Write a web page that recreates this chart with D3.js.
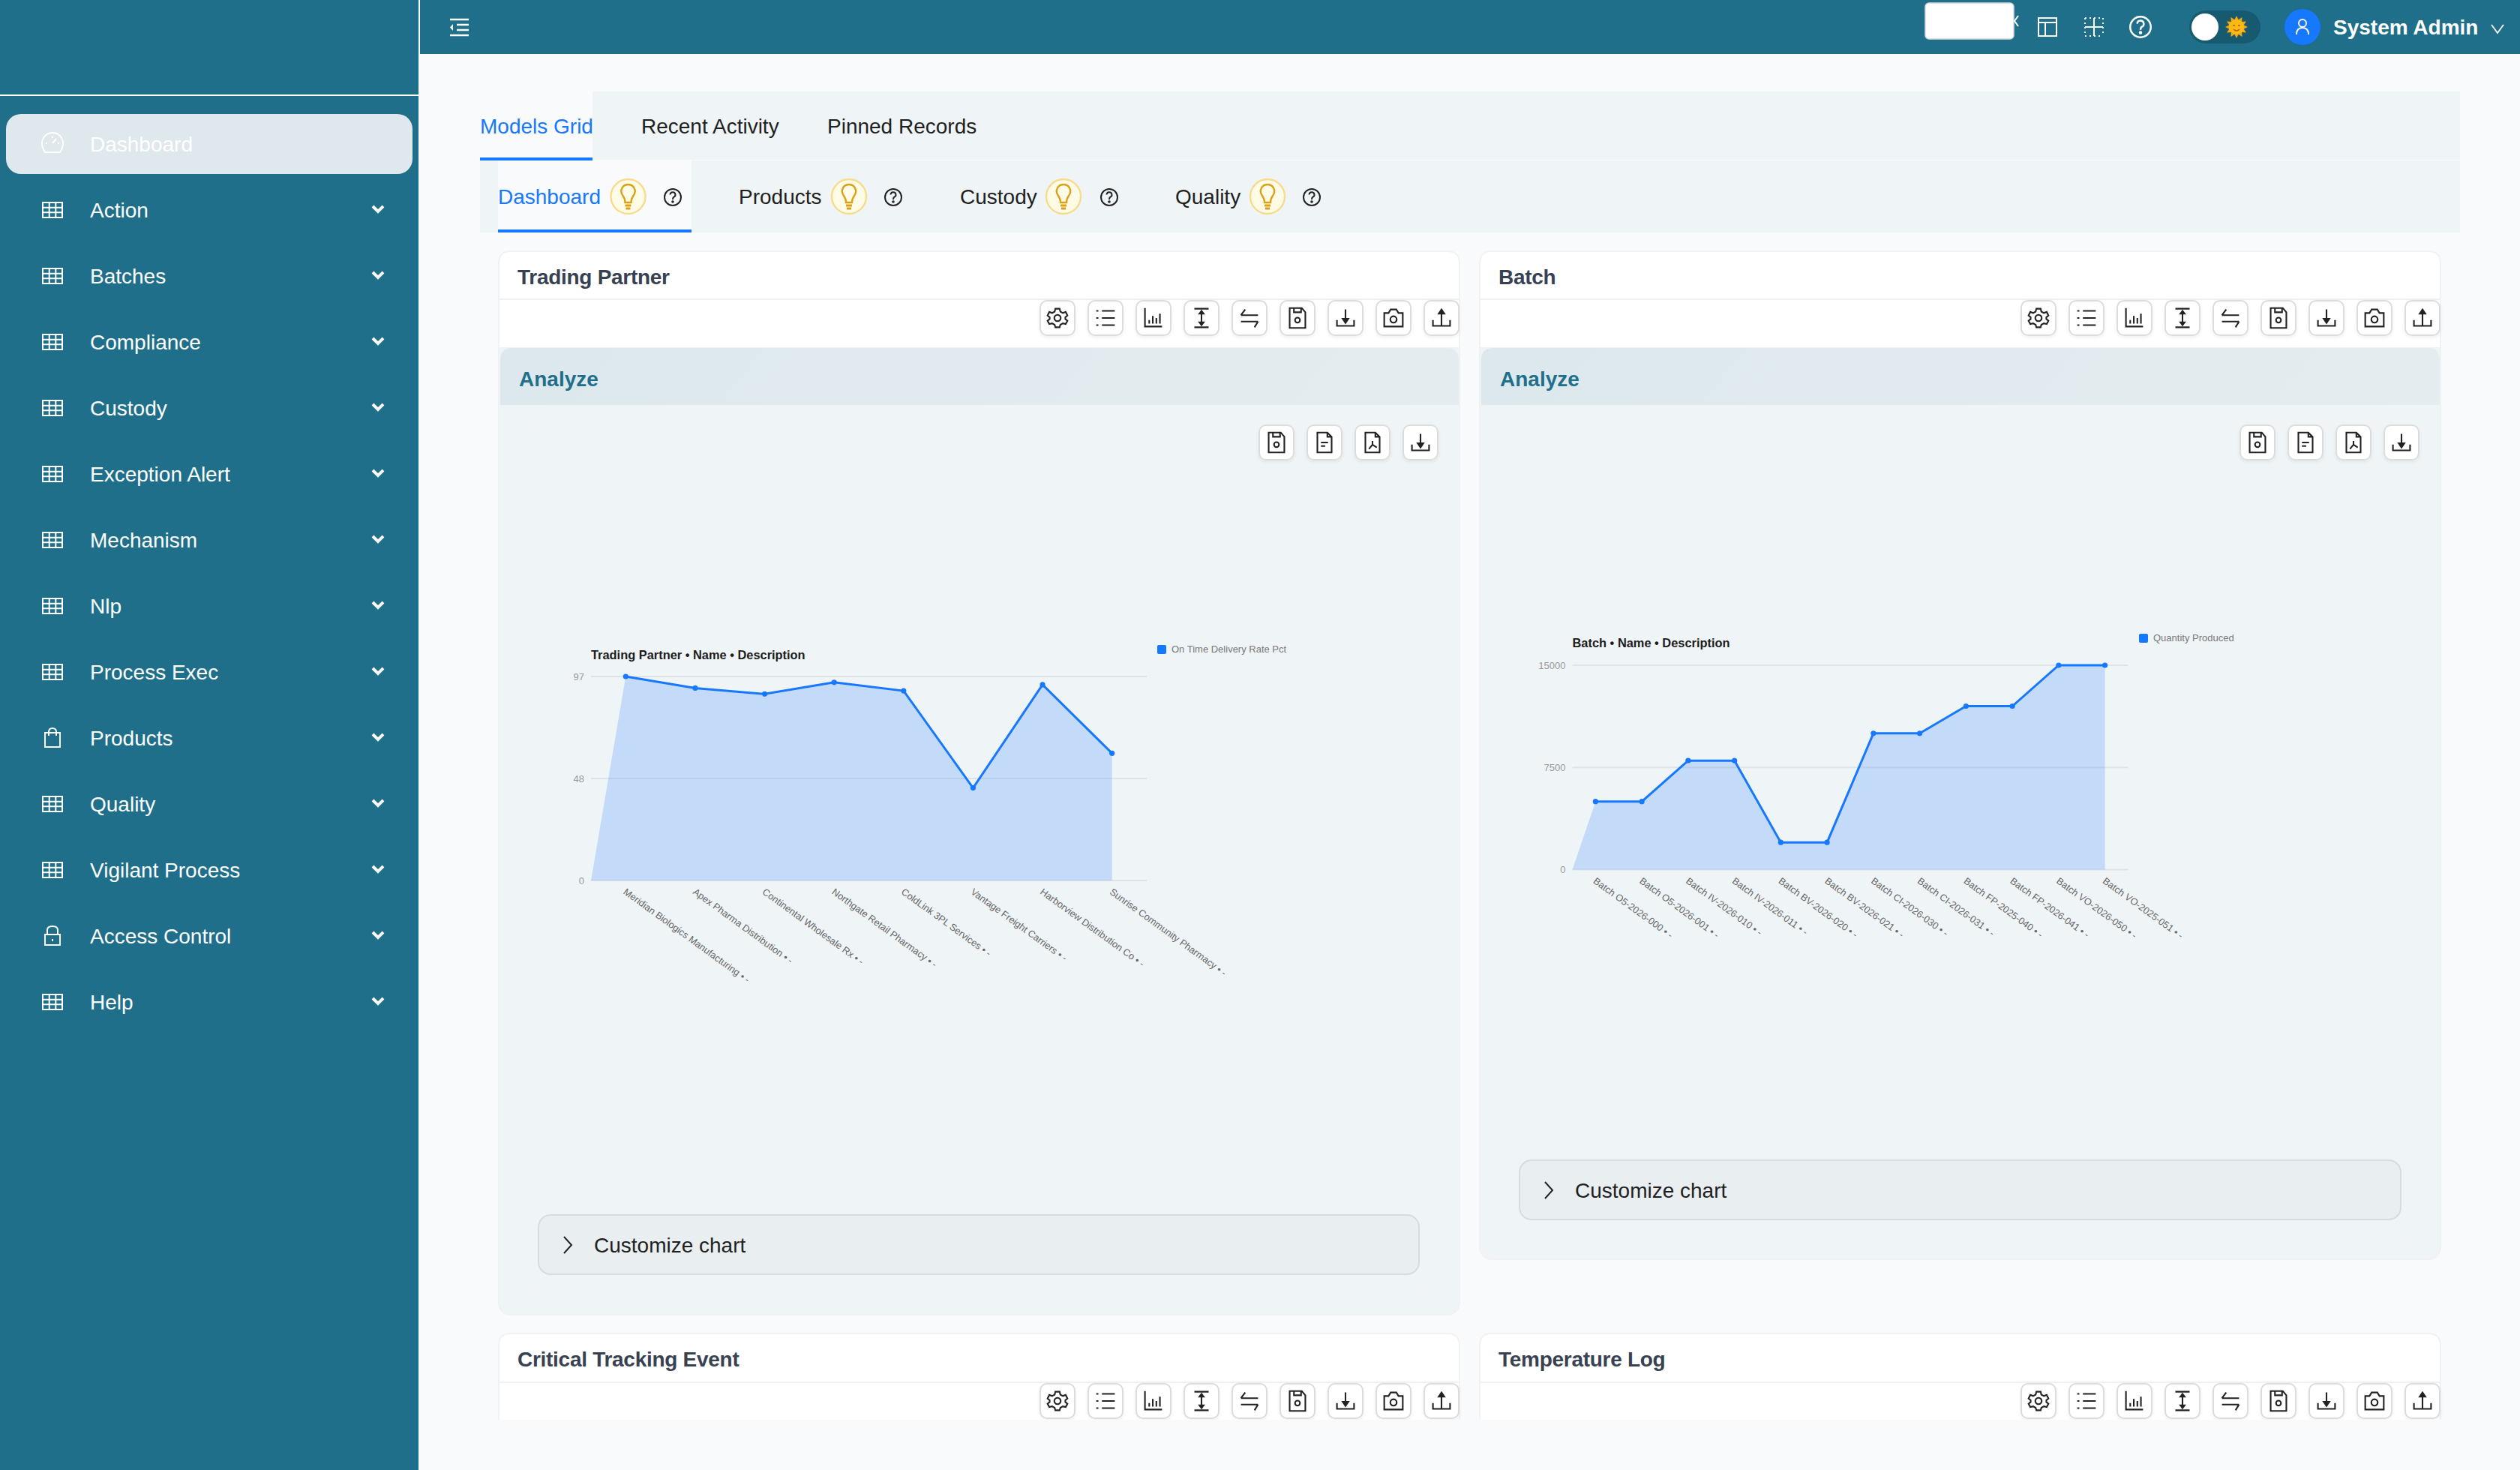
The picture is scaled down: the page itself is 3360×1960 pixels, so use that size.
<!DOCTYPE html>
<html>
<head>
<meta charset="utf-8">
<title>Dashboard</title>
<script src="https://cdn.jsdelivr.net/npm/d3@7/dist/d3.min.js"></script>
<style>
html,body{margin:0;padding:0;background:#f9fafb;overflow:hidden}
svg{display:block;font-family:"Liberation Sans",Arial,sans-serif}
</style>
</head>
<body>
<svg id="page" width="3360" height="1960" viewBox="0 0 3360 1960"></svg>
<script>
const partnerNames = ["Meridian Biologics Manufacturing","Apex Pharma Distribution","Continental Wholesale Rx","Northgate Retail Pharmacy","ColdLink 3PL Services","Vantage Freight Carriers","Harborview Distribution Co","Sunrise Community Pharmacy"];
const partnerValues = [97,91.5,88.7,94.2,90.2,44,93.1,60.5];
const partnerTicks = [0,48.5,97];
const partnerTickLabels = ["0","48","97"];
const batchNames = ["Batch O5-2026-000","Batch O5-2026-001","Batch IV-2026-010","Batch IV-2026-011","Batch BV-2026-020","Batch BV-2026-021","Batch CI-2026-030","Batch CI-2026-031","Batch FP-2025-040","Batch FP-2026-041","Batch VO-2026-050","Batch VO-2025-051"];
const batchValues = [5000,5000,8000,8000,2000,2000,10000,10000,12000,12000,15000,15000];
const batchTicks = [0,7500,15000];
const batchTickLabels = ["0","7500","15000"];
const sideItems = ["Action","Batches","Compliance","Custody","Exception Alert","Mechanism","Nlp","Process Exec","Products","Quality","Vigilant Process","Access Control","Help"];
const sideIcons = ["grid","grid","grid","grid","grid","grid","grid","grid","bag","grid","grid","lock","grid"];
const topTabs = ["Models Grid","Recent Activity","Pinned Records"];
const subTabs = ["Dashboard","Products","Custody","Quality"];
const toolIcons = ["gear","list","bars","height","swap","save","download","camera","upload"];
const panelIcons = ["save","file","pdf","download"];

const TEAL="#1f6f8b", PANEL="#eff4f7", BG="#f9fafb", BLUE="#1677ff", INK="#1f1f1f", HEAD="#374151";
const svg=d3.select("#page");
const defs=svg.append("defs");
const grad=defs.append("linearGradient").attr("id","hdr").attr("x1","0").attr("x2","1").attr("y1","0").attr("y2","0.05");
grad.append("stop").attr("offset","0").attr("stop-color","#dce8ed");
grad.append("stop").attr("offset","1").attr("stop-color","#e5ecef");
const btnShadow=defs.append("filter").attr("id","btnS").attr("x","-20%").attr("y","-20%").attr("width","140%").attr("height","150%");
btnShadow.append("feDropShadow").attr("dx",0).attr("dy",2).attr("stdDeviation",2).attr("flood-color","#000").attr("flood-opacity",0.06);
defs.append("clipPath").attr("id","mainClip").append("rect").attr("x",560).attr("y",72).attr("width",2800).attr("height",1821);

function txt(g,s,x,y,size,fill,weight,anchor){
  return g.append("text").attr("x",x).attr("y",y).attr("font-size",size).attr("fill",fill)
    .attr("font-weight",weight||400).attr("text-anchor",anchor||"start").text(s);
}
function roundedTop(x0,y0,x1,y1,r){return `M${x0},${y1}V${y0+r}Q${x0},${y0} ${x0+r},${y0}H${x1-r}Q${x1},${y0} ${x1},${y0+r}V${y1}Z`;}

/* icon set: drawn centred on (0,0), nominal ±12 units */
function icon(g,name,cx,cy,color,sw,sc){
  const n=g.append("g").attr("transform",`translate(${cx},${cy}) scale(${sc||1})`)
    .attr("fill","none").attr("stroke",color).attr("stroke-width",sw||2).attr("stroke-linecap","butt");
  const p=d=>n.append("path").attr("d",d);
  const c=(x,y,r)=>n.append("circle").attr("cx",x).attr("cy",y).attr("r",r);
  switch(name){
    case "grid":
      n.append("rect").attr("x",-13).attr("y",-10).attr("width",26).attr("height",20);
      p("M-13,-3.3H13M-13,3.3H13M-4.3,-10V10M4.3,-10V10");break;
    case "bag":
      p("M-10,-7H10V12H-10ZM-5,-3V-8Q-5,-13 0,-13Q5,-13 5,-8V-3");break;
    case "lock":
      p("M-10,-2H10V12H-10ZM-7,-2V-8Q-7,-13 0,-13Q7,-13 7,-8V-2M0,4V7");break;
    case "gauge":
      p("M-10,11Q-14,5 -14,-1A14,14 0 0 1 14,-1Q14,5 10,11Z");p("M0,-1L5,-7M0,-10V-8M-9,-1H-7M9,-1H7");break;
    case "gear":
      p("M-3,-13H3L4,-9L7.5,-7L11.5,-8.5L14,-3.5L11,-1V1.5L14,4L11.5,8.5L7.5,7.5L4,9.5L3,13H-3L-4,9.5L-7.5,7.5L-11.5,8.5L-14,4L-11,1.5V-1L-14,-3.5L-11.5,-8.5L-7.5,-7L-4,-9Z");c(0,0,4.5);break;
    case "list":
      p("M-5,-10H13M-5,0H13M-5,10H13M-13,-10H-10M-13,0H-10M-13,10H-10");break;
    case "bars":
      p("M-12,-14V12H12");p("M-6,8V3M-1,8V-3M4,8V0M9,8V-6");break;
    case "height":
      p("M-10,-13H10M-10,13H10M0,-8V8");n.append("path").attr("d","M-3,-6L0,-10L3,-6ZM-3,6L0,10L3,6Z").attr("fill",color);break;
    case "swap":
      p("M-12,-4H12M-12,5H12M-12,-4L-6,-12M12,5L7,13");break;
    case "save":
      p("M-11,-14H6L11,-8V14H-11ZM-5,-14V-8H5V-14");c(0,3,3.5);break;
    case "download":
      p("M0,-12V5M-12,3V11H12V3");n.append("path").attr("d","M-4,1L0,7L4,1Z").attr("fill",color);break;
    case "upload":
      p("M0,-8V10M-12,3V11H12V3");n.append("path").attr("d","M-4,-6L0,-12L4,-6Z").attr("fill",color);break;
    case "camera":
      p("M-13,-7H-7L-4,-12H4L7,-7H13V12H-13Z");c(0,2,4.5);break;
    case "file":
      p("M-10,-14H4L10,-8V14H-10ZM4,-14V-8H10M-5,0H5M-5,5H1");break;
    case "pdf":
      p("M-10,-14H4L10,-8V14H-10ZM4,-14V-8H10M0,-2V3L-5,9M0,3L6,7");break;
    case "help":
      c(0,0,11);p("M-3.5,-3.5A3.5,3.5 0 1 1 1,0Q0,1 0,3");n.append("circle").attr("cx",0).attr("cy",6).attr("r",0.8).attr("fill",color);break;
    case "layout":
      p("M-12,-12H12V12H-12ZM-12,-6H12M-3,-6V12");break;
    case "dots":
      p("M-12,-12H12M-12,12H12M-12,-12V12M12,-12V12").attr("stroke-dasharray","2,4");
      p("M-12,0H12M0,-12V12").attr("stroke-width",2);break;
    case "user":
      c(0,-5,5);p("M-8,10Q-8,1 0,1Q8,1 8,10");break;
  }
  return n;
}
function button(g,name,x,y,w,h){
  g.append("rect").attr("x",x).attr("y",y).attr("width",w).attr("height",h).attr("rx",9)
    .attr("fill","#fff").attr("stroke","#dcdcdc").attr("stroke-width",2).attr("filter","url(#btnS)");
  icon(g,name,x+w/2,y+h/2,"#222",2.2,0.95);
}
function bulb(g,cx,cy){
  g.append("circle").attr("cx",cx).attr("cy",cy).attr("r",23).attr("fill","#fffbe6").attr("stroke","#f6dc8c").attr("stroke-width",2.4);
  const b=g.append("g").attr("transform",`translate(${cx},${cy})`).attr("fill","none").attr("stroke","#d9a216").attr("stroke-width",2.4);
  b.append("path").attr("d","M-4,8Q-4,3 -7,-1Q-10,-5 -9,-9Q-7,-16 0,-16Q7,-16 9,-9Q10,-5 7,-1Q4,3 4,8Z");
  b.append("path").attr("d","M-4,12H4M-3,16H3").attr("stroke-width",3);
}

/* ---------- shell ---------- */
svg.append("rect").attr("width",3360).attr("height",1960).attr("fill",BG);
svg.append("rect").attr("width",558).attr("height",1960).attr("fill",TEAL);
svg.append("rect").attr("x",560).attr("width",2800).attr("height",72).attr("fill",TEAL);
svg.append("rect").attr("y",126).attr("width",558).attr("height",2).attr("fill","#fff");

/* sidebar */
const side=svg.append("g");
side.append("rect").attr("x",8).attr("y",152).attr("width",542).attr("height",80).attr("rx",20).attr("fill","#dee8ed");
icon(side,"gauge",70,192,"#fff",2);
txt(side,"Dashboard",120,202,28,"#fff");
sideItems.forEach((s,i)=>{
  const cy=280+i*88;
  icon(side,sideIcons[i],70,cy,"#fff",2);
  txt(side,s,120,cy+10,28,"#fff");
  side.append("path").attr("d",`M${497},${cy-5}L${504},${cy+2}L${511},${cy-5}`).attr("fill","none").attr("stroke","#fff").attr("stroke-width",4);
});

/* top bar */
const topBar=svg.append("g");
topBar.append("path").attr("d","M600,26H625M600,47H625M609,33H625M609,40H625").attr("stroke","#fff").attr("stroke-width",2.4).attr("fill","none");
topBar.append("path").attr("d","M600,36.5L604,32V41Z").attr("fill","#fff");
topBar.append("rect").attr("x",2567).attr("y",4).attr("width",118).attr("height",48).attr("rx",5).attr("fill","#fff").attr("stroke","#d9d9d9").attr("stroke-width",1.5);
topBar.append("path").attr("d","M2691,21L2686,28L2691,35").attr("fill","none").attr("stroke","#fff").attr("stroke-width",2);
icon(topBar,"layout",2730,36,"#fff",2);
icon(topBar,"dots",2792,36,"#fff",2);
icon(topBar,"help",2854,36,"#fff",2,1.25);
topBar.append("rect").attr("x",2919).attr("y",14).attr("width",95).attr("height",44).attr("rx",22).attr("fill","#175a70");
topBar.append("circle").attr("cx",2940).attr("cy",36).attr("r",18).attr("fill","#fff");
const sun=topBar.append("g").attr("transform","translate(2982,36)");
d3.range(12).forEach(i=>sun.append("path").attr("d","M-3,-9L0,-15L3,-9Z").attr("fill","#f5a90f").attr("transform",`rotate(${i*30})`));
sun.append("circle").attr("r",10).attr("fill","#fcb813");
sun.append("path").attr("d","M-5,-2H-2M2,-2H5M-4,3Q0,7 4,3").attr("fill","none").attr("stroke","#a9650a").attr("stroke-width",1.4);
topBar.append("circle").attr("cx",3070).attr("cy",36).attr("r",24).attr("fill",BLUE);
icon(topBar,"user",3070,36,"#fff",2);
txt(topBar,"System Admin",3111,46,28,"#fff",700);
topBar.append("path").attr("d","M3322,33L3330,44L3338,33").attr("fill","none").attr("stroke","#fff").attr("stroke-width",1.8);

/* tabs */
const tabs=svg.append("g");
tabs.append("rect").attr("x",790).attr("y",122).attr("width",2490).attr("height",91).attr("fill",PANEL);
tabs.append("rect").attr("x",640).attr("y",214).attr("width",2640).attr("height",96).attr("fill",PANEL);
tabs.append("rect").attr("x",640).attr("y",210).attr("width",150).attr("height",4).attr("fill",BLUE);
tabs.append("rect").attr("x",664).attr("y",214).attr("width",258).attr("height",92).attr("fill",BG);
tabs.append("rect").attr("x",664).attr("y",306).attr("width",258).attr("height",4).attr("fill",BLUE);
const topTabX=[640,855,1103];
topTabs.forEach((s,i)=>txt(tabs,s,topTabX[i],178,28,i===0?BLUE:INK));
const subX=[664,985,1280,1567], bulbX=[837.5,1132,1418,1690], helpX=[897,1191,1479,1749];
subTabs.forEach((s,i)=>{
  txt(tabs,s,subX[i],272,28,i===0?BLUE:INK);
  bulb(tabs,bulbX[i],262);
  icon(tabs,"help",helpX[i],263,"#222",2);
});

/* cards */
const mainG=svg.append("g").attr("clip-path","url(#mainClip)");
function card(title,x0,x1,y0,yBottom,cust){
  const g=mainG.append("g");
  g.append("rect").attr("x",x0).attr("y",y0).attr("width",x1-x0).attr("height",yBottom-y0).attr("rx",16)
    .attr("fill",PANEL).attr("stroke","#eff1f2").attr("stroke-width",2);
  g.append("path").attr("d",roundedTop(x0,y0,x1,464,16)).attr("fill","#fff").attr("stroke","#f1f2f3").attr("stroke-width",2);
  g.append("rect").attr("x",x0).attr("y",398).attr("width",x1-x0).attr("height",2).attr("fill","#f0f1f2");
  txt(g,title,x0+25,378.5,28,HEAD,700).attr("letter-spacing",-0.28);
  toolIcons.forEach((n,i)=>button(g,n,x1-559+i*64,401,46,46));
  g.append("path").attr("d",roundedTop(x0+2,464,x1-1,540,16)).attr("fill","url(#hdr)");
  txt(g,"Analyze",x0+27,515,28,TEAL,700);
  g.append("rect").attr("x",x0+29).attr("y",565).attr("width",x1-x0-58+1).attr("height",yBottom-28-565).attr("rx",16)
    .attr("fill","none").attr("stroke","#f2f3f3").attr("stroke-width",2);
  panelIcons.forEach((n,i)=>button(g,n,x1-267+i*64,567,46,46));
  g.append("rect").attr("x",x0+53).attr("y",cust).attr("width",x1-x0-(x0<1000?53+54:53+53)).attr("height",79).attr("rx",16)
    .attr("fill","#e9eef1").attr("stroke","#d9dcdd").attr("stroke-width",2);
  g.append("path").attr("d",`M${x0+87},${cust+29}L${x0+97},${cust+40}L${x0+87},${cust+51}`).attr("fill","none").attr("stroke","#222").attr("stroke-width",2);
  txt(g,"Customize chart",x0+127,cust+50,28,INK);
}
card("Trading Partner",665,1946,335,1753,1620);
card("Batch",1973,3254,335,1679,1547);
function stub(title,x0,x1){
  const g=mainG.append("g");
  g.append("path").attr("d",roundedTop(x0,1778,x1,1960,16)).attr("fill","#fff").attr("stroke","#f1f2f3").attr("stroke-width",2);
  g.append("rect").attr("x",x0).attr("y",1842).attr("width",x1-x0).attr("height",2).attr("fill","#f0f1f2");
  txt(g,title,x0+25,1822,28,HEAD,700).attr("letter-spacing",-0.28);
  toolIcons.forEach((n,i)=>button(g,n,x1-559+i*64,1845,46,46));
}
stub("Critical Tracking Event",665,1946);
stub("Temperature Log",1973,3254);

/* charts */
function areaChart(o){
  const g=svg.append("g");
  const x=d3.scaleBand().domain(o.names).range([o.left,o.right]);
  const y=d3.scaleLinear().domain([0,o.max]).range([o.bottom,o.top]);
  const yAxis=d3.axisLeft(y).tickValues(o.ticks).tickSize(0).tickPadding(9).tickFormat((d,i)=>o.tickLabels[i]);
  const ya=g.append("g").attr("transform",`translate(${o.left},0)`).call(yAxis);
  ya.select(".domain").remove();
  ya.selectAll("text").attr("font-size",13).attr("font-family","Liberation Sans").attr("fill","#999");
  g.selectAll("line.grid").data(o.ticks).join("line").attr("class","grid")
    .attr("x1",o.left).attr("x2",o.right).attr("y1",d=>y(d)).attr("y2",d=>y(d))
    .attr("stroke","#e0e3e5").attr("stroke-width",2);
  const pts=o.names.map((n,i)=>[x(n)+x.bandwidth()/2,y(o.values[i])]);
  const poly=[[o.left,y(0)],...pts,[pts[pts.length-1][0],y(0)]];
  g.append("path").attr("d",d3.line()(poly)+"Z").attr("fill",BLUE).attr("fill-opacity",0.2);
  g.append("path").attr("d",d3.line()(pts)).attr("fill","none").attr("stroke",BLUE).attr("stroke-width",3);
  g.selectAll("circle.pt").data(pts).join("circle").attr("class","pt").attr("cx",d=>d[0]).attr("cy",d=>d[1]).attr("r",3.6).attr("fill",BLUE);
  const xAxis=d3.axisBottom(x).tickSize(0).tickPadding(0).tickFormat(d=>d+" • -");
  const xa=g.append("g").attr("transform",`translate(0,${o.bottom})`).call(xAxis);
  xa.select(".domain").remove();
  xa.selectAll("text").attr("font-size",12.8).attr("font-family","Liberation Sans").attr("fill","#666")
    .attr("text-anchor","start").attr("dy",0).attr("y",0).attr("x",0)
    .attr("transform","translate(-4,17) rotate(36)");
  txt(g,o.title,o.left,o.titleY,16.4,"#1c1c1c",700);
  g.append("rect").attr("x",o.legX).attr("y",o.legY).attr("width",12).attr("height",12).attr("rx",2).attr("fill",BLUE);
  txt(g,o.legend,o.legX+19,o.legY+10,13,"#777");
}
areaChart({names:partnerNames,values:partnerValues,ticks:partnerTicks,tickLabels:partnerTickLabels,max:97,
  left:788,right:1529,top:902,bottom:1174,title:"Trading Partner • Name • Description",titleY:879,
  legend:"On Time Delivery Rate Pct",legX:1543,legY:860});
areaChart({names:batchNames,values:batchValues,ticks:batchTicks,tickLabels:batchTickLabels,max:15000,
  left:2096.5,right:2837.5,top:887,bottom:1159.5,title:"Batch • Name • Description",titleY:863,
  legend:"Quantity Produced",legX:2852,legY:845});
</script>
</body>
</html>
